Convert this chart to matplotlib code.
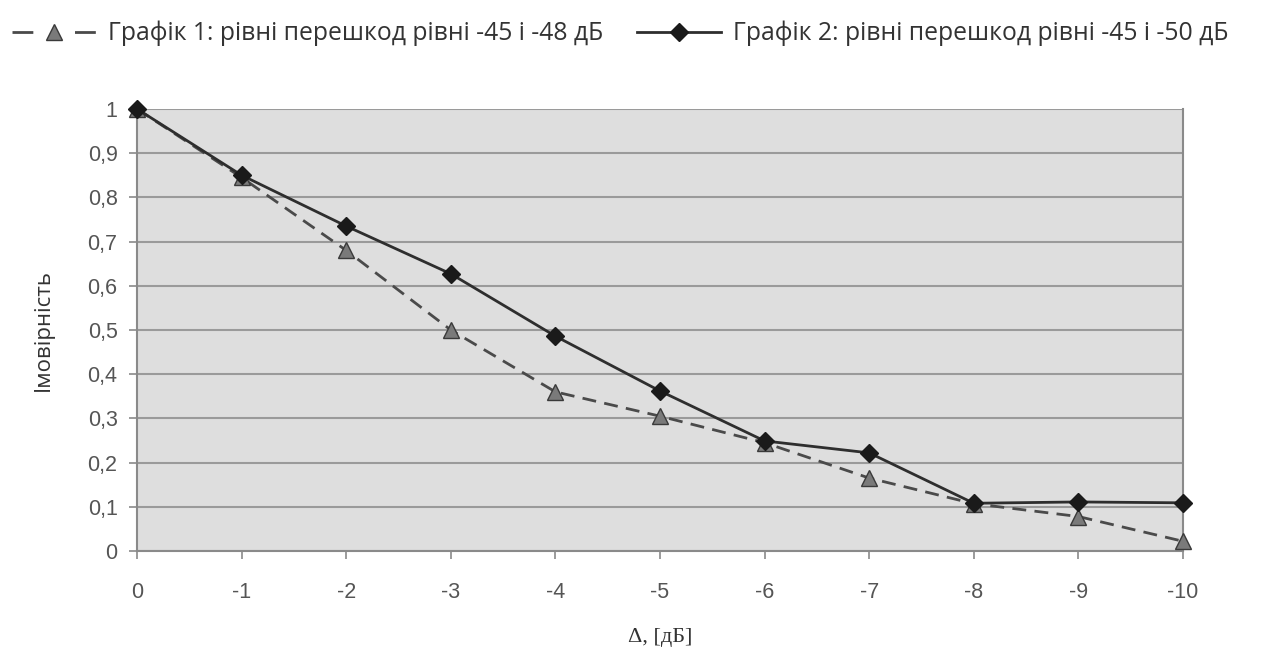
import matplotlib
matplotlib.use("Agg")
import matplotlib.pyplot as plt
from matplotlib.lines import Line2D
from matplotlib.ticker import FuncFormatter

plt.rcParams["axes.unicode_minus"] = False

delta_db = [0, -1, -2, -3, -4, -5, -6, -7, -8, -9, -10]
graph1 = [1.0, 0.845, 0.68, 0.50, 0.36, 0.305, 0.245, 0.165, 0.107, 0.078, 0.022]
graph2 = [1.0, 0.85, 0.735, 0.627, 0.486, 0.362, 0.249, 0.222, 0.108, 0.111, 0.109]
y_ticks = [0, 0.1, 0.2, 0.3, 0.4, 0.5, 0.6, 0.7, 0.8, 0.9, 1.0]

label1 = "Графік 1: рівні перешкод рівні -45 і -48 дБ"
label2 = "Графік 2: рівні перешкод рівні -45 і -50 дБ"

style1 = dict(color="#4a4a4a", linewidth=2, marker="^", markersize=11,
              markerfacecolor="#7a7a7a", markeredgecolor="#3a3a3a")
style2 = dict(color="#2e2e2e", linewidth=2, marker="D", markersize=9,
              markerfacecolor="#1a1a1a", markeredgecolor="#1a1a1a")

fig = plt.figure(figsize=(12.62, 6.51), dpi=100)
ax = fig.add_axes([0.1086, 0.1536, 0.8288, 0.679])
ax.set_facecolor("#dedede")

ax.plot(delta_db, graph1, linestyle=(0, (5, 3)), clip_on=False, zorder=3, **style1)
ax.plot(delta_db, graph2, linestyle="-", clip_on=False, zorder=4, **style2)

ax.set_xlim(0, -10)
ax.set_ylim(0, 1)
ax.set_xticks(delta_db)
ax.set_yticks(y_ticks)
ax.yaxis.set_major_formatter(FuncFormatter(
    lambda v, _: "0" if v == 0 else ("1" if v == 1 else f"{v:.1f}".replace(".", ","))))
ax.grid(axis="y", color="#9a9a9a", linewidth=1.5)
ax.set_axisbelow(True)
for side in ["left", "bottom", "right"]:
    ax.spines[side].set_color("#8a8a8a")
    ax.spines[side].set_linewidth(1.5)
ax.spines["top"].set_visible(False)
ax.tick_params(axis="both", colors="#8a8a8a", length=6, width=1.2,
               labelcolor="#555555", labelsize=15.5)
for lab in ax.get_xticklabels() + ax.get_yticklabels():
    lab.set_family("Liberation Sans")
ax.tick_params(axis="x", pad=16)
ax.tick_params(axis="y", pad=8)

ax.set_ylabel("Імовірність", fontsize=16, family="Open Sans", color="#333333",
              labelpad=24)
ax.set_xlabel("Δ, [дБ]", fontsize=16, family="Liberation Serif", color="#333333",
              labelpad=18)

# legend handles: dash - marker - dash like the original
h1 = Line2D([], [], linestyle=(0, (7.5, 15)), **style1)
h2 = Line2D([], [], linestyle="-", **style2)
fig.legend([h1, h2], [label1, label2], loc="upper left",
           bbox_to_anchor=(0.0, 0.987), ncol=2, frameon=False,
           prop={"family": "Open Sans", "size": 17.8}, labelcolor="#333333",
           handlelength=3.4, handletextpad=0.45, columnspacing=1.4,
           borderpad=0.2, borderaxespad=0.3)

fig.savefig("out.png", dpi=100)
